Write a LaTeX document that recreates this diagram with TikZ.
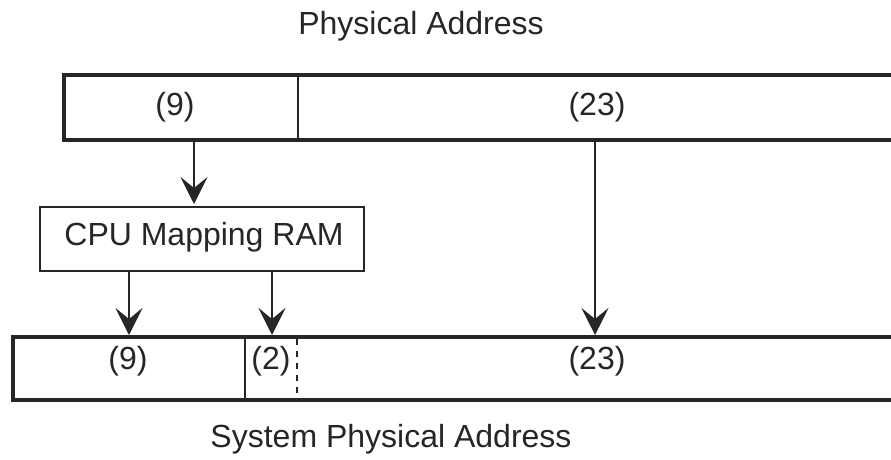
\documentclass[tikz,border=0pt]{standalone}
\usepackage{fontspec}
\setmainfont{Liberation Sans}
\usetikzlibrary{arrows.meta,positioning}
\definecolor{ink}{RGB}{38,38,38}
\tikzset{
  lbl/.style={anchor=base, inner sep=0pt, text=ink, font=\fontsize{32pt}{36pt}\selectfont},
  field/.style={draw=none, inner sep=0pt, anchor=north west},
  frame/.style={draw=ink, line width=4pt},
  divider/.style={draw=ink, line width=2pt},
  ramstyle/.style={draw=ink, line width=2pt, inner sep=0pt, anchor=north west,
    minimum width=324pt, minimum height=64pt},
  arr/.style={draw=ink, line width=1.8pt, shorten >=2pt,
    -{Stealth[length=27pt,width=27pt,inset=11pt]}},
}
\begin{document}
\begin{tikzpicture}[x=1pt,y=-1pt]
\clip (0,0) rectangle (891,460);

% Upper register: Physical Address
\node[lbl] (title) at (421,35) {Physical Address};
\node[field, minimum width=234pt, minimum height=65pt] (pa9) at (64,75) {};
\node[field, minimum width=640pt, minimum height=65pt] (pa23) at (298,75) {};
\draw[frame] (pa23.north east) -- (pa9.north west) -- (pa9.south west) -- (pa23.south east);
\draw[divider] (pa9.north east) -- (pa9.south east);
\node[lbl] (t9) at (175,115) {(9)};
\node[lbl] (t23) at (597,115) {(23)};

% Mapping RAM
\node[ramstyle] (ram) at (39,206) {};
\node[lbl] at (204,245) {CPU Mapping RAM};

% Lower register: System Physical Address
\node[field, minimum width=232pt, minimum height=63pt] (sp9) at (13,337) {};
\node[field, minimum width=52pt, minimum height=63pt] (sp2) at (245,337) {};
\node[field, minimum width=640pt, minimum height=63pt] (sp23) at (297,337) {};
\draw[frame] (sp23.north east) -- (sp9.north west) -- (sp9.south west) -- (sp23.south east);
\draw[divider] (sp9.north east) -- (sp9.south east);
\draw[divider, dash pattern=on 6pt off 6pt, dash phase=-2pt] (sp2.north east) -- (sp2.south east);
\node[lbl] at (128,369) {(9)};
\node[lbl] at (271,369) {(2)};
\node[lbl] at (597,369) {(23)};
\node[lbl] (subtitle) at (391,447) {System Physical Address};

% Connectors
\draw[arr] ([xshift=130pt]pa9.south west) -- ([xshift=155pt]ram.north west);
\draw[arr] ([xshift=90pt]ram.south west) -- ([xshift=116pt]sp9.north west);
\draw[arr] ([xshift=233pt]ram.south west) -- ([xshift=27pt]sp2.north west);
\draw[arr] ([xshift=297pt]pa23.south west) -- ([xshift=298pt]sp23.north west);
\end{tikzpicture}
\end{document}
